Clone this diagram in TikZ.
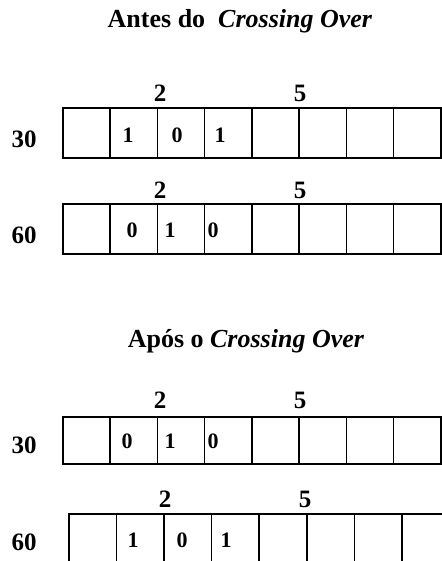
\documentclass[tikz,border=0pt]{standalone}
\usepackage{fontspec}
\setmainfont{Liberation Serif}
\usetikzlibrary{positioning}

\begin{document}
\begin{tikzpicture}[
  x=1pt, y=-1pt,
  font=\bfseries,
  cell/.style={draw, line width=1.6pt, minimum width=#1, minimum height=50pt,
    anchor=north west, inner sep=0pt},
  cell/.default=47.25pt,
  title/.style={anchor=base, font=\fontsize{26}{30}\selectfont\bfseries},
  tag/.style={anchor=base, font=\fontsize{25}{28}\selectfont\bfseries},
  bit/.style={anchor=base, font=\fontsize{22}{24}\selectfont\bfseries}
]
\useasboundingbox (0,0) rectangle (441,561);

% before crossing over
\node[title] (tbefore) at (240,28) {Antes do\ \ \textit{Crossing Over}};

\foreach \i in {0,...,7}
  \node[cell] (a\i) at (62+47.25*\i,107) {};
\node[tag] (a30) at (24,148) {30};
\node[tag] (a2) at (160,102) {2};
\node[tag] (a5) at (300,102) {5};
\node[bit] (abit1) at (128,143) {1};
\node[bit] (abit2) at (177,143) {0};
\node[bit] (abit3) at (220,143) {1};

\foreach \i in {0,...,7}
  \node[cell] (b\i) at (62+47.25*\i,203) {};
\node[tag] (b60) at (24,243) {60};
\node[tag] (b2) at (160,198) {2};
\node[tag] (b5) at (300,198) {5};
\node[bit] (bbit1) at (132,237) {0};
\node[bit] (bbit2) at (170,237) {1};
\node[bit] (bbit3) at (213,237) {0};

% after crossing over
\node[title] (tafter) at (246,347) {Após o \textit{Crossing Over}};

\foreach \i in {0,...,7}
  \node[cell, minimum height=47pt] (c\i) at (62+47.25*\i,416) {};
\node[tag] (c30) at (24,453) {30};
\node[tag] (c2) at (160,408) {2};
\node[tag] (c5) at (300,408) {5};
\node[bit] (cbit1) at (127,448) {0};
\node[bit] (cbit2) at (170,448) {1};
\node[bit] (cbit3) at (213,448) {0};

\foreach \i in {0,...,7}
  \node[cell=47.6pt] (d\i) at (68+47.6*\i,513) {};
\node[tag] (d60) at (24,550) {60};
\node[tag] (d2) at (165,507) {2};
\node[tag] (d5) at (305,507) {5};
\node[bit] (dbit1) at (133,547) {1};
\node[bit] (dbit2) at (182,547) {0};
\node[bit] (dbit3) at (226,547) {1};
\end{tikzpicture}
\end{document}
